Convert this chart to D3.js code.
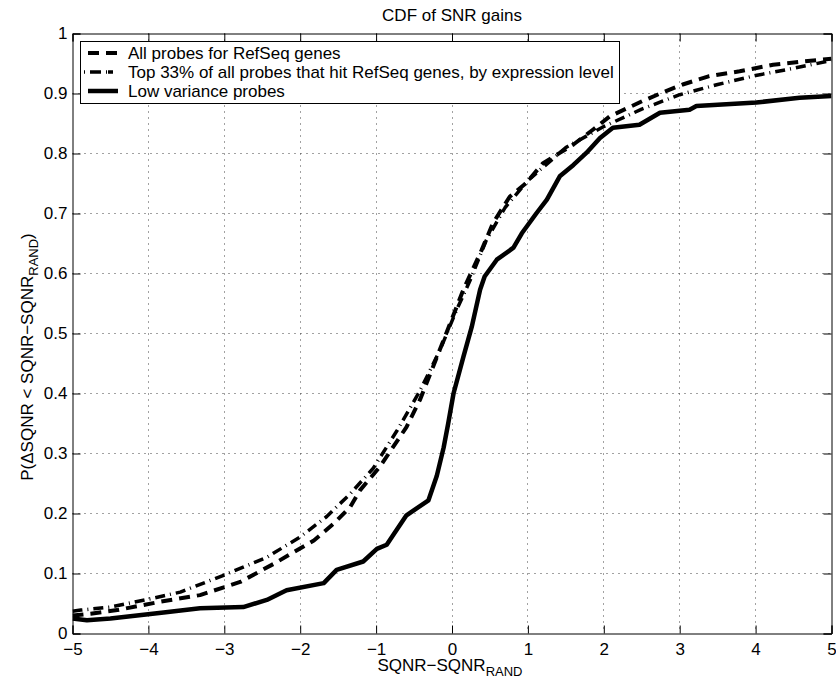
<!DOCTYPE html>
<html>
<head>
<meta charset="utf-8">
<script src="https://cdn.jsdelivr.net/npm/d3@7"></script>
<style>
  body { margin: 0; background: #fff; }
  svg { display: block; font-family: "Liberation Sans", Arial, Helvetica, sans-serif; }
  .tick-label { font-size: 17px; fill: #000; }
</style>
</head>
<body>
<svg id="chart"></svg>
<script>
// tick values
const xTicks = [-5, -4, -3, -2, -1, 0, 1, 2, 3, 4, 5];
const yTicks = [0, 0.1, 0.2, 0.3, 0.4, 0.5, 0.6, 0.7, 0.8, 0.9, 1];

// series: all probes for RefSeq genes (dashed)
const allX = [-5, -4.76, -4.41, -3.84, -3.32, -2.79, -2.35, -1.82, -1.56, -1.34, -1.21, -0.95, -0.6, -0.42,
  -0.11, 0.15, 0.39, 0.54, 0.76, 0.98, 1.2, 1.42, 1.6, 1.86, 2.08, 2.52, 2.82, 3.04, 3.39, 3.79, 4.23, 4.6, 5];
const allY = [0.03, 0.033, 0.039, 0.053, 0.064, 0.086, 0.116, 0.155, 0.183, 0.211, 0.239, 0.278, 0.344, 0.39,
  0.489, 0.573, 0.639, 0.684, 0.728, 0.751, 0.784, 0.801, 0.815, 0.84, 0.862, 0.888, 0.904, 0.915, 0.929, 0.937, 0.948, 0.953, 0.958];

// series: top 33% by expression level (dash-dot)
const topX = [-5, -4.89, -4.5, -3.97, -3.58, -3.01, -2.44, -2.0, -1.65, -1.34, -1.04, -0.73, -0.42, -0.16,
  0.06, 0.24, 0.45, 0.7, 1.0, 1.5, 2.0, 2.5, 3.0, 3.5, 4.0, 4.5, 5];
const topY = [0.037, 0.039, 0.044, 0.058, 0.069, 0.097, 0.127, 0.161, 0.195, 0.233, 0.275, 0.337, 0.405, 0.472,
  0.539, 0.589, 0.655, 0.71, 0.755, 0.81, 0.845, 0.874, 0.898, 0.915, 0.93, 0.942, 0.955];

// series: low variance probes (solid)
const lowX = [-5, -4.81, -4.5, -3.8, -3.32, -2.75, -2.44, -2.18, -1.69, -1.52, -1.17, -0.99, -0.86, -0.77,
  -0.6, -0.31, -0.2, -0.11, -0.05, 0.02, 0.15, 0.26, 0.37, 0.43, 0.59, 0.81, 0.92, 1.11, 1.25, 1.42, 1.6,
  1.77, 1.95, 2.12, 2.47, 2.74, 3.13, 3.22, 4.01, 4.58, 5];
const lowY = [0.025, 0.022, 0.025, 0.035, 0.042, 0.044, 0.056, 0.072, 0.084, 0.106, 0.12, 0.141, 0.148, 0.165,
  0.197, 0.222, 0.263, 0.31, 0.35, 0.4, 0.461, 0.511, 0.573, 0.595, 0.623, 0.643, 0.667, 0.7, 0.723, 0.762, 0.781,
  0.801, 0.826, 0.843, 0.848, 0.868, 0.873, 0.879, 0.885, 0.893, 0.896];

const seriesNames = [
  "All probes for RefSeq genes",
  "Top 33% of all probes that hit RefSeq genes, by expression level",
  "Low variance probes"
];

const width = 836, height = 682;
const margin = { top: 33.5, right: 4.5, bottom: 48.5, left: 72.5 };
const innerW = width - margin.left - margin.right;
const innerH = height - margin.top - margin.bottom;

const svg = d3.select("#chart").attr("width", width).attr("height", height);
const chart = svg.append("g").attr("transform", `translate(${margin.left},${margin.top})`);

const xScale = d3.scaleLinear().domain([-5, 5]).range([0, innerW]);
const yScale = d3.scaleLinear().domain([0, 1]).range([innerH, 0]);

// dotted grid
chart.append("g").selectAll("line").data(xTicks.slice(1, -1)).join("line")
  .attr("x1", d => Math.round(xScale(d))).attr("x2", d => Math.round(xScale(d)))
  .attr("y1", 0).attr("y2", innerH)
  .attr("stroke", "#444").attr("stroke-width", 1).attr("stroke-dasharray", "1,5");
chart.append("g").selectAll("line").data(yTicks.slice(1, -1)).join("line")
  .attr("y1", d => Math.round(yScale(d))).attr("y2", d => Math.round(yScale(d)))
  .attr("x1", 0).attr("x2", innerW)
  .attr("stroke", "#444").attr("stroke-width", 1).attr("stroke-dasharray", "1,5");

// lines
const line = d3.line().x(d => xScale(d[0])).y(d => yScale(d[1]));
const zip = (xs, ys) => xs.map((x, i) => [x, ys[i]]);

const styles = [
  { data: zip(allX, allY), width: 4, dash: "11,7" },
  { data: zip(topX, topY), width: 3.5, dash: "10,5,1,5" },
  { data: zip(lowX, lowY), width: 4.5, dash: null }
];

chart.append("defs").append("clipPath").attr("id", "clip")
  .append("rect").attr("width", innerW).attr("height", innerH);

const lines = chart.append("g").attr("clip-path", "url(#clip)");
styles.forEach(s => {
  lines.append("path")
    .datum(s.data)
    .attr("d", line)
    .attr("fill", "none")
    .attr("stroke", "#000")
    .attr("stroke-width", s.width)
    .attr("stroke-linejoin", "round")
    .attr("stroke-dasharray", s.dash);
});

// axes: ticks inside on all four sides
const xAxis = d3.axisBottom(xScale).tickValues(xTicks).tickSize(-8).tickPadding(9).tickFormat(d3.format("d"));
const yAxis = d3.axisLeft(yScale).tickValues(yTicks).tickSize(-8).tickPadding(5).tickFormat(d => d === 0 || d === 1 ? d : d3.format(".1f")(d));
const xAxisTop = d3.axisTop(xScale).tickValues(xTicks).tickSize(-8).tickFormat("");
const yAxisRight = d3.axisRight(yScale).tickValues(yTicks).tickSize(-8).tickFormat("");

function styleAxis(g) {
  g.select(".domain").attr("stroke", "#000").attr("stroke-width", 1);
  g.selectAll(".tick line").attr("stroke", "#000");
  g.selectAll(".tick text").attr("class", "tick-label").attr("font-size", null).attr("font-family", null);
}

chart.append("g").attr("transform", `translate(0,${innerH})`).call(xAxis).call(styleAxis);
chart.append("g").call(yAxis).call(styleAxis);
chart.append("g").call(xAxisTop).call(styleAxis);
chart.append("g").attr("transform", `translate(${innerW},0)`).call(yAxisRight).call(styleAxis);

// title
svg.append("text")
  .attr("x", margin.left + innerW / 2).attr("y", 21)
  .attr("text-anchor", "middle").attr("font-size", 17)
  .text("CDF of SNR gains");

// x label with subscript
const xl = svg.append("text")
  .attr("x", margin.left + innerW / 2 - 2).attr("y", 671)
  .attr("text-anchor", "middle").attr("font-size", 17);
xl.append("tspan").text("SQNR\u2212SQNR");
xl.append("tspan").attr("font-size", 13).attr("dy", 5).text("RAND");

// y label with subscript
const yl = svg.append("text")
  .attr("transform", "translate(33,357) rotate(-90)")
  .attr("text-anchor", "middle").attr("font-size", 17);
yl.append("tspan").text("P(\u0394SQNR < SQNR\u2212SQNR");
yl.append("tspan").attr("font-size", 13).attr("dy", 5).text("RAND");
yl.append("tspan").attr("dy", -5).text(")");

// legend
const legend = svg.append("g");
legend.append("rect")
  .attr("x", 80.5).attr("y", 41.5).attr("width", 539).attr("height", 62)
  .attr("fill", "#fff").attr("stroke", "#000").attr("stroke-width", 1);

const rowY = [53, 72, 91];
seriesNames.forEach((name, i) => {
  legend.append("line")
    .attr("x1", i === 1 ? 84 : 88).attr("x2", 118)
    .attr("y1", rowY[i]).attr("y2", rowY[i])
    .attr("stroke", "#000")
    .attr("stroke-width", styles[i].width)
    .attr("stroke-dasharray", i === 1 ? "1,5,11,5,1" : styles[i].dash);
  legend.append("text")
    .attr("x", 128).attr("y", rowY[i] + 6)
    .attr("font-size", 17)
    .text(name);
});
</script>
</body>
</html>
